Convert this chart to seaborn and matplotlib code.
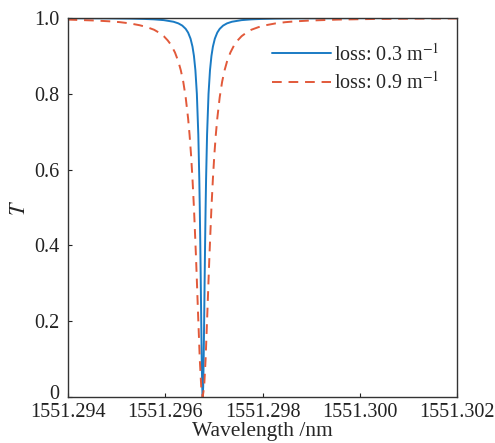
import numpy as np
import pandas as pd
import matplotlib
matplotlib.use("Agg")
import matplotlib.pyplot as plt
import matplotlib.transforms as mtransforms
import seaborn as sns

# Resonance dip: the transmission is symmetric about the centre wavelength,
# so each curve is stored as one half-profile (offset from centre in nm, T).
center = 1551.29677

half_off_blue = [0.0, 1e-5, 2e-5, 3e-5, 4e-5, 5e-5, 6e-5, 7e-5, 9e-5, 1.2e-4,
                 1.5e-4, 1.8e-4, 2.1e-4, 2.5e-4, 3e-4, 3.5e-4, 4.2e-4, 5e-4,
                 6e-4, 8e-4, 1e-3, 1.2e-3, 1.5e-3, 2e-3, 2.78e-3, 3.5e-3, 5.23e-3]
half_t_blue = [0.0, 0.027, 0.100, 0.200, 0.308, 0.410, 0.500, 0.576, 0.692, 0.800,
               0.862, 0.900, 0.9245, 0.9455, 0.9615, 0.9714, 0.980, 0.9858,
               0.9901, 0.9944, 0.9964, 0.9975, 0.9984, 0.9991, 0.9995, 0.9997, 0.9999]

half_off_red = [0.0, 3e-5, 6e-5, 1e-4, 1.2e-4, 1.4e-4, 1.8e-4, 2.1e-4, 2.4e-4,
                2.7e-4, 3e-4, 3.5e-4, 4e-4, 4.5e-4, 5e-4, 5.7e-4, 6.5e-4, 7.2e-4,
                8e-4, 9e-4, 1e-3, 1.15e-3, 1.3e-3, 1.5e-3, 1.7e-3, 1.9e-3, 2.2e-3,
                2.78e-3, 3.5e-3, 4.3e-3, 5.23e-3]
half_t_red = [0.0, 0.027, 0.100, 0.236, 0.308, 0.377, 0.500, 0.576, 0.640,
              0.692, 0.735, 0.791, 0.832, 0.862, 0.885, 0.909, 0.929, 0.941,
              0.952, 0.9615, 0.969, 0.976, 0.981, 0.9858, 0.989, 0.9911, 0.9933,
              0.9958, 0.9974, 0.9983, 0.9988]

labels = ["loss: 0.3 m$^{-1}$", "loss: 0.9 m$^{-1}$"]
xticks = [1551.294, 1551.296, 1551.298, 1551.300, 1551.302]
xtick_labels = ["1551.294", "1551.296", "1551.298", "1551.300", "1551.302"]
yticks = [0, 0.2, 0.4, 0.6, 0.8, 1.0]
ytick_labels = ["0", "0.2", "0.4", "0.6", "0.8", "1.0"]


def full_profile(offs, ts):
    offs = np.asarray(offs)
    ts = np.asarray(ts)
    left = offs <= 2.78e-3
    wl = np.concatenate([center - offs[left][::-1][:-1], center + offs])
    tt = np.concatenate([ts[left][::-1][:-1], ts])
    return pd.DataFrame({"wl": wl, "T": tt})


df_blue = full_profile(half_off_blue, half_t_blue)
df_red = full_profile(half_off_red, half_t_red)

sns.set_style("white")
plt.rcParams["font.family"] = ["Liberation Serif", "DejaVu Serif"]
plt.rcParams["mathtext.fontset"] = "stix"

fig = plt.figure(figsize=(4.95, 4.43), dpi=100)
ax = fig.add_axes([68 / 495, 1 - 397 / 443, (457 - 68) / 495, (397 - 18) / 443])

sns.lineplot(data=df_blue, x="wl", y="T", ax=ax, color="#1a7bc4", lw=1.4,
             sort=False, label=labels[0])
sns.lineplot(data=df_red, x="wl", y="T", ax=ax, color="#e2593a", lw=1.4,
             sort=False, label=labels[1])
ax.lines[1].set_dashes([5, 3.5])

ax.set_xlim(1551.294, 1551.302)
ax.set_ylim(0, 1)
ax.set_xticks(xticks)
ax.set_xticklabels(xtick_labels)
ax.set_yticks(yticks)
ax.set_yticklabels(ytick_labels)
ax.tick_params(axis="both", direction="in", length=3, width=0.8, labelsize=14.5,
               colors="#222222", bottom=True, left=True, top=False, right=False)
ax.tick_params(axis="x", pad=4)
ax.tick_params(axis="y", pad=6)
for s in ax.spines.values():
    s.set_color("#333333")
    s.set_linewidth(1.0)
    s.set_visible(True)

# lift the "0" label a little so it clears the first wavelength label
zero_lbl = ax.get_yticklabels()[0]
zero_lbl.set_transform(zero_lbl.get_transform()
                       + mtransforms.ScaledTranslation(0, 5 / 100, fig.dpi_scale_trans))

ax.set_xlabel("Wavelength /nm", fontsize=15.5, labelpad=0)
ax.set_ylabel("$T$", fontsize=16, labelpad=3)

leg = ax.legend(loc="upper right", frameon=False, fontsize=14.5, handlelength=2.9,
                handletextpad=0.15, borderaxespad=0.0, labelspacing=0.35,
                bbox_to_anchor=(0.975, 0.955))

fig.savefig("out.png", dpi=100)
